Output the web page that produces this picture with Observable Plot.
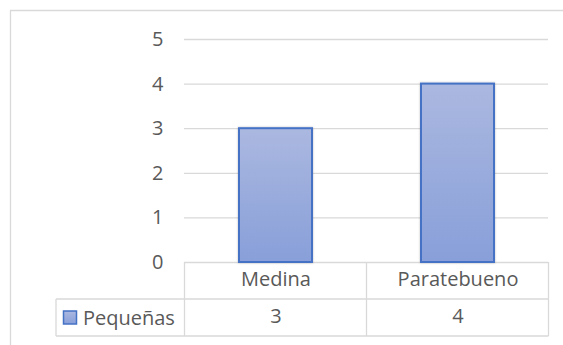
<!DOCTYPE html>
<html>
<head>
<meta charset="utf-8">
<script src="https://cdn.jsdelivr.net/npm/d3@7"></script>
<script src="https://cdn.jsdelivr.net/npm/@observablehq/plot@0.6"></script>
<style>
  html, body { margin: 0; padding: 0; background: #fff; }
  svg { display: block; }
</style>
</head>
<body>
<div id="chart"></div>
<script>
// Number of small companies per municipality
const categories = ["Medina", "Paratebueno"];
const values = [3, 4];
const seriesName = "Pequeñas";
const yTicks = [0, 1, 2, 3, 4, 5];

const data = categories.map((c, i) => ({category: c, value: values[i]}));

const textColor = "#595959";
const gridColor = "#d9d9d9";
const barStroke = "#4472c4";
const fontFamily = "'Open Sans', Lato, sans-serif";
const fontSize = 20;

// Gradient definition used by the bars and the legend swatch
function gradientDefs() {
  const defs = d3.create("svg:defs");
  const g = defs.append("linearGradient")
    .attr("id", "barFill").attr("x1", 0).attr("y1", 0).attr("x2", 0).attr("y2", 1);
  g.append("stop").attr("offset", "0%").attr("stop-color", "#abb8e0");
  g.append("stop").attr("offset", "100%").attr("stop-color", "#889fd9");
  const f = defs.append("filter").attr("id", "barShadow")
    .attr("x", "-10%").attr("y", "-10%").attr("width", "120%").attr("height", "120%");
  f.append("feDropShadow").attr("dx", 0).attr("dy", 0).attr("stdDeviation", 1.2)
    .attr("flood-color", "#000").attr("flood-opacity", 0.25);
  return defs.node();
}

const chart = Plot.plot({
  width: 563,
  height: 345,
  marginLeft: 184,
  marginRight: 15,
  marginTop: 39,
  marginBottom: 83,
  style: {fontFamily, fontSize: fontSize + "px", color: textColor, background: "#fff"},
  x: {domain: categories, paddingInner: 0.6, paddingOuter: 0.3, axis: null},
  y: {domain: [0, 5], ticks: yTicks, tickFormat: d3.format("d"), tickSize: 0, tickPadding: 21, label: null},
  marks: [
    gradientDefs,
    Plot.gridY(yTicks, {stroke: gridColor, strokeOpacity: 1, strokeWidth: 1.3}),
    Plot.barY(data, {
      x: "category", y: "value",
      fill: "url(#barFill)", stroke: barStroke, strokeWidth: 2
    }),
    // data table: category row and value row below the plot frame
    Plot.text(data, {x: "category", text: "category", frameAnchor: "bottom", dy: 23, fill: textColor}),
    Plot.text(data, {x: "category", text: d => String(d.value), frameAnchor: "bottom", dy: 60, fill: textColor})
  ]
});

chart.querySelectorAll("rect").forEach(r => {
  if (r.getAttribute("fill") === "url(#barFill)" || (r.parentNode && r.parentNode.getAttribute("fill") === "url(#barFill)")) {
    r.setAttribute("filter", "url(#barShadow)");
  }
});

// Table grid lines, aligned to the x and y scales
const xs = chart.scale("x");
const ys = chart.scale("y");
const svg = d3.select(chart);
const half = (xs.step - xs.bandwidth) / 2;
const right = xs.apply(categories[categories.length - 1]) + xs.bandwidth + half;
const rowTop = ys.apply(0);
const rowH = 37;
const legendLeft = 56;

const lines = svg.append("g").attr("stroke", gridColor).attr("stroke-width", 1.3).attr("fill", "none");
// horizontal lines
lines.append("line").attr("x1", legendLeft).attr("x2", right).attr("y1", rowTop + rowH).attr("y2", rowTop + rowH);
lines.append("line").attr("x1", legendLeft).attr("x2", right).attr("y1", rowTop + 2 * rowH).attr("y2", rowTop + 2 * rowH);
// vertical lines
categories.forEach(c => {
  const x0 = xs.apply(c) - half;
  lines.append("line").attr("x1", x0).attr("x2", x0).attr("y1", rowTop).attr("y2", rowTop + 2 * rowH);
});
lines.append("line").attr("x1", right).attr("x2", right).attr("y1", rowTop).attr("y2", rowTop + 2 * rowH);
lines.append("line").attr("x1", legendLeft).attr("x2", legendLeft).attr("y1", rowTop + rowH).attr("y2", rowTop + 2 * rowH);

// legend key in the value row
const legendY = rowTop + rowH * 1.5;
svg.append("rect")
  .attr("x", legendLeft + 7.5).attr("y", legendY - 6.5)
  .attr("width", 13).attr("height", 13)
  .attr("fill", "url(#barFill)").attr("stroke", barStroke).attr("stroke-width", 1.5);
svg.append("text")
  .attr("x", legendLeft + 27).attr("y", legendY)
  .attr("dy", "0.35em")
  .attr("text-anchor", "start")
  .attr("fill", textColor)
  .attr("font-family", fontFamily).attr("font-size", fontSize)
  .text(seriesName);

// chart area border
svg.append("path")
  .attr("d", "M10.5,345V10.5H563")
  .attr("fill", "none").attr("stroke", gridColor).attr("stroke-width", 1.3);

document.getElementById("chart").append(chart);
</script>
</body>
</html>
